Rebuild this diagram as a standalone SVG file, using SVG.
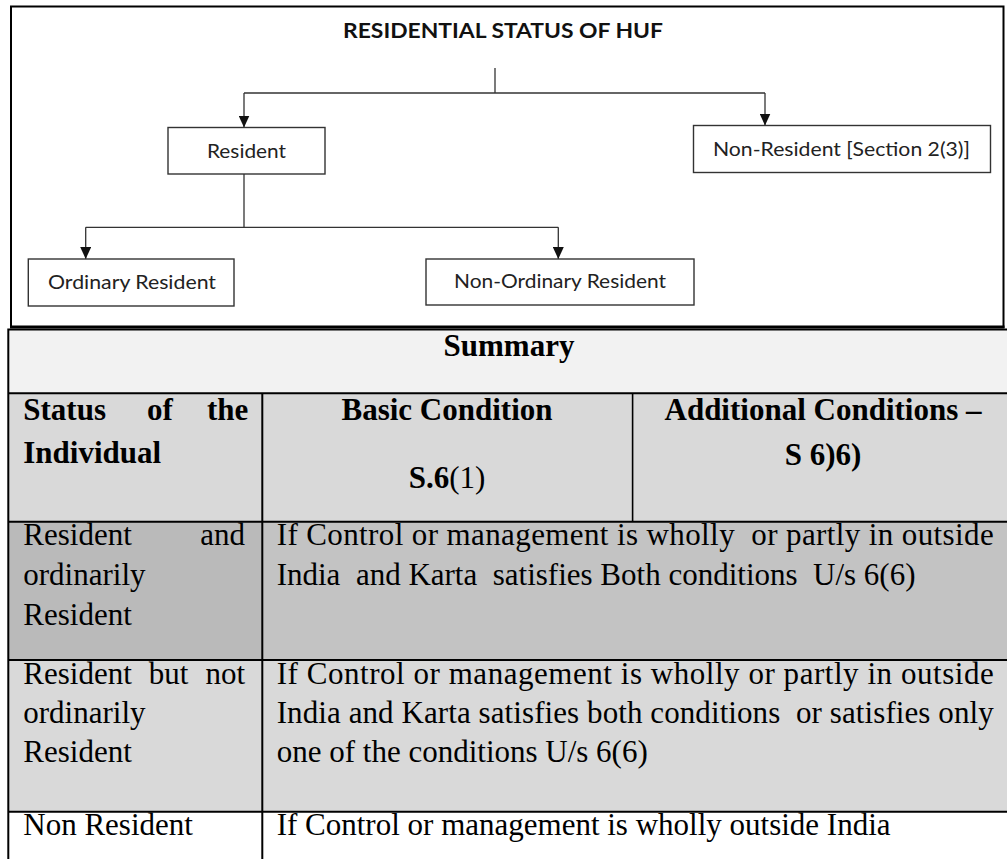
<svg xmlns="http://www.w3.org/2000/svg" width="1007" height="859" viewBox="0 0 1007 859">
<style>
.frame{fill:none;stroke:#000;stroke-width:2}
.box{fill:#fff;stroke:#333;stroke-width:1.4}
.conn{fill:none;stroke:#333;stroke-width:1.3}
.lbl{font-family:Lato,"Open Sans",sans-serif;font-size:20px;fill:#222;text-anchor:middle}
.title{font-family:Lato,"Open Sans",sans-serif;font-size:20.5px;font-weight:700;fill:#111;text-anchor:middle}
.grid{stroke:#000;stroke-width:2;fill:none}
.t{font-family:"Liberation Serif","Times New Roman",serif;font-size:31px;fill:#000}
.b{font-weight:700}
.c{text-anchor:middle}
</style>
<defs>
<marker id="arr" viewBox="0 0 12 11" refX="12" refY="5.5" markerWidth="12" markerHeight="11" orient="auto" markerUnits="userSpaceOnUse">
<path d="M0,0 L12,5.5 L0,11 Z" fill="#111"/>
</marker>
</defs>
<rect width="1007" height="859" fill="#fff"/>
<rect class="frame" x="11" y="6.5" width="992.5" height="320.5"/>
<line x1="10" y1="327" x2="1004.5" y2="327" stroke="#000" stroke-width="3"/>
<text class="title" x="503" y="37.5" textLength="320" lengthAdjust="spacingAndGlyphs">RESIDENTIAL STATUS OF HUF</text>
<g id="connectors">
<path class="conn" d="M495,68 V93"/>
<path class="conn" d="M244,93 H765"/>
<path class="conn" d="M244,93 V127.5" marker-end="url(#arr)"/>
<path class="conn" d="M765,93 V125.5" marker-end="url(#arr)"/>
<path class="conn" d="M244,174 V227.3"/>
<path class="conn" d="M85.7,227.3 H558.3"/>
<path class="conn" d="M85.7,227.3 V259" marker-end="url(#arr)"/>
<path class="conn" d="M558.3,227.3 V259" marker-end="url(#arr)"/>
</g>
<g id="resident">
<rect class="box" x="168" y="127.5" width="157" height="46.5"/>
<text class="lbl" x="246.5" y="158.3" textLength="79" lengthAdjust="spacingAndGlyphs">Resident</text>
</g>
<g id="non-resident">
<rect class="box" x="693.5" y="125.5" width="297" height="47"/>
<text class="lbl" x="841.5" y="156" textLength="257" lengthAdjust="spacingAndGlyphs">Non-Resident [Section 2(3)]</text>
</g>
<g id="ordinary-resident">
<rect class="box" x="28.3" y="259" width="205.7" height="47"/>
<text class="lbl" x="132" y="289.3" textLength="168" lengthAdjust="spacingAndGlyphs">Ordinary Resident</text>
</g>
<g id="non-ordinary-resident">
<rect class="box" x="426" y="259" width="268" height="46"/>
<text class="lbl" x="560" y="288.3" textLength="212" lengthAdjust="spacingAndGlyphs">Non-Ordinary Resident</text>
</g>
<g id="table">
<rect x="8.3" y="329.5" width="999" height="63.8" fill="#f2f2f2"/>
<rect x="8.3" y="393.3" width="999" height="128.4" fill="#d9d9d9"/>
<rect x="8.3" y="521.7" width="254" height="138.3" fill="#bababa"/>
<rect x="262.3" y="521.7" width="745" height="138.3" fill="#c3c3c3"/>
<rect x="8.3" y="660" width="999" height="151.7" fill="#d9d9d9"/>
<path class="grid" d="M8.3,329.5 H1007 M8.3,393.3 H1007 M8.3,521.7 H1007 M8.3,660 H1007 M8.3,811.7 H1007 M8.3,328.5 V859 M262.3,393.3 V859"/>
<path d="M632.6,393.3 V521.7" stroke="#000" stroke-width="1.6"/>
<text class="t b c" x="509" y="356">Summary</text>
<text class="t b"><tspan x="23.3" y="420">Status</tspan> <tspan x="147" y="420">of</tspan> <tspan x="207" y="420">the</tspan></text>
<text class="t b" x="23.3" y="463">Individual</text>
<text class="t b c" x="447" y="420">Basic Condition</text>
<text class="t c" x="447" y="488"><tspan class="b">S.6</tspan>(1)</text>
<text class="t b c" x="823" y="420">Additional Conditions –</text>
<text class="t b c" x="823" y="465">S 6)6)</text>
<text class="t"><tspan x="23.3" y="545">Resident</tspan> <tspan x="200.2" y="545">and</tspan></text>
<text class="t" x="23.3" y="585">ordinarily</text>
<text class="t" x="23.3" y="625">Resident</text>
<text class="t" x="276.7" y="545" textLength="717" lengthAdjust="spacing" xml:space="preserve">If Control or management is wholly  or partly in outside</text>
<text class="t" x="276.7" y="585" xml:space="preserve">India  and Karta  satisfies Both conditions  U/s 6(6)</text>
<text class="t"><tspan x="23.3" y="684">Resident</tspan> <tspan x="148.8" y="684">but</tspan> <tspan x="205.4" y="684">not</tspan></text>
<text class="t" x="23.3" y="723">ordinarily</text>
<text class="t" x="23.3" y="762">Resident</text>
<text class="t" x="276.7" y="684" textLength="717" lengthAdjust="spacing">If Control or management is wholly or partly in outside</text>
<text class="t" x="276.7" y="723" textLength="717" lengthAdjust="spacing" xml:space="preserve">India and Karta satisfies both conditions  or satisfies only</text>
<text class="t" x="276.7" y="762">one of the conditions U/s 6(6)</text>
<text class="t" x="23.3" y="835">Non Resident</text>
<text class="t" x="276.7" y="835">If Control or management is wholly outside India</text>
</g>
</svg>
